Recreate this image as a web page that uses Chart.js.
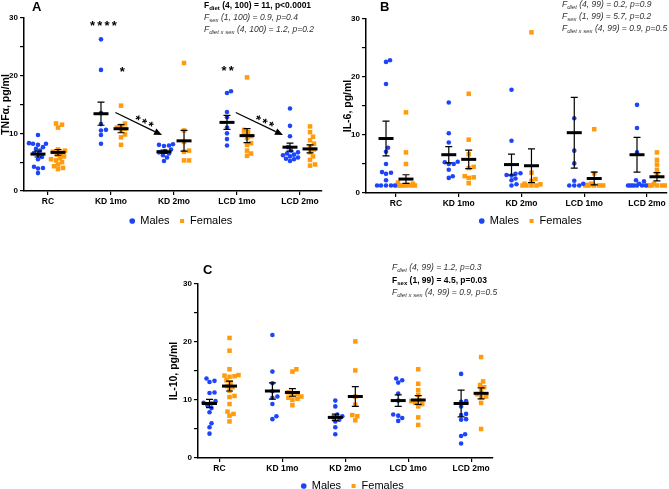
<!DOCTYPE html>
<html>
<head>
<meta charset="utf-8">
<script src="https://cdn.jsdelivr.net/npm/chart.js@4/dist/chart.umd.min.js"></script>
<style>
html, body { margin:0; padding:0; background:#fff; width:669px; height:489px; overflow:hidden; position:relative;
  font-family:'Liberation Sans', Arial, sans-serif; }
canvas { position:absolute; }
.plbl { position:absolute; font-weight:bold; font-size:13px; line-height:13px; color:#000; }
.stat { position:absolute; font-size:8.5px; line-height:12px; color:#333; white-space:nowrap; }
.stat div { font-style:italic; }
.stat div.b { font-style:normal; font-weight:bold; color:#000; }
.stat sub { font-size:6px; vertical-align:-2px; line-height:0; }
</style>
</head>
<body>
<canvas id="cA" width="335" height="240" style="left:0px;top:0px"></canvas>
<canvas id="cB" width="339" height="242" style="left:330px;top:0px"></canvas>
<canvas id="cC" width="340" height="267" style="left:160px;top:240px"></canvas>

<div class="plbl" style="left:32px;top:0px">A</div>
<div class="plbl" style="left:380px;top:0px">B</div>
<div class="plbl" style="left:203px;top:263px">C</div>

<div class="stat" style="left:204px;top:-1px">
  <div class="b">F<sub>diet</sub> (4, 100) = 11, p&lt;0.0001</div>
  <div>F<sub>sex</sub> (1, 100) = 0.9, p=0.4</div>
  <div>F<sub>diet x sex</sub> (4, 100) = 1.2, p=0.2</div>
</div>
<div class="stat" style="left:562px;top:-2px">
  <div>F<sub>diet</sub> (4, 99) = 0.2, p=0.9</div>
  <div>F<sub>sex</sub> (1, 99) = 5.7, p=0.2</div>
  <div>F<sub>diet x sex</sub> (4, 99) = 0.9, p=0.5</div>
</div>
<div class="stat" style="left:392px;top:261px;line-height:12.5px">
  <div>F<sub>diet</sub> (4, 99) = 1.2, p=0.3</div>
  <div class="b">F<sub>sex</sub> (1, 99) = 4.5, p=0.03</div>
  <div>F<sub>diet x sex</sub> (4, 99) = 0.9, p=0.5</div>
</div>

<script>
// ---------- data ----------
const categories = ['RC', 'KD 1mo', 'KD 2mo', 'LCD 1mo', 'LCD 2mo'];
const yTickLabels = [0, 10, 20, 30];
const seriesNames = ['Males', 'Females'];

// Panel A – TNFα (pg/ml), one list per diet group
const tnfMales = [
  [9.7, 8.3, 8.2, 8.2, 8.0, 7.6, 7.3, 7.0, 6.6, 6.3, 5.9, 5.5, 4.2, 4.0, 3.9, 3.1],
  [26.3, 21.0, 13.5, 11.6, 10.6, 10.5, 9.7, 8.2],
  [8.1, 8.0, 7.9, 7.8, 7.2, 6.9, 6.7, 6.5, 6.2, 5.8, 5.2],
  [17.3, 17.0, 13.7, 12.8, 11.0, 10.0, 9.0, 7.9],
  [14.3, 11.3, 9.5, 7.6, 7.0, 6.7, 6.5, 6.3, 6.2, 6.0, 5.8, 5.6, 5.5, 5.2]
];
const tnfFemales = [
  [11.7, 11.5, 11.0, 7.2, 7.0, 6.8, 6.6, 6.3, 6.0, 5.7, 5.5, 5.3, 5.0, 4.6, 4.3, 4.0, 3.8],
  [14.8, 11.7, 11.3, 11.0, 10.8, 10.5, 9.8, 9.3, 8.0],
  [22.2, 10.5, 8.5, 7.0, 6.8, 5.3, 5.3],
  [19.7, 10.6, 10.2, 9.8, 9.5, 9.2, 8.3, 8.0, 7.0, 6.5, 6.1],
  [11.2, 10.2, 9.4, 8.8, 8.2, 7.7, 7.2, 6.7, 6.0, 5.4, 4.6, 4.4]
];
const tnfMeanMales   = [6.4, 13.4, 6.8, 11.9, 7.6];
const tnfSemMales    = [0.5, 2.0, 0.3, 1.2, 0.7];
const tnfMeanFemales = [6.7, 10.8, 8.7, 9.6, 7.3];
const tnfSemFemales  = [0.5, 0.7, 1.8, 1.2, 0.7];

// Panel B – IL-6 (pg/ml)
const il6Males = [
  [22.9, 22.6, 18.8, 7.8, 7.1, 5.0, 3.6, 3.5, 3.3, 2.2, 1.3, 1.3, 1.3, 1.3, 1.3],
  [15.6, 10.3, 8.7, 5.4, 5.3, 5.0, 5.0, 4.0, 2.9, 2.6],
  [17.8, 9.0, 3.4, 3.3, 3.1, 3.0, 2.5, 2.2, 1.5, 1.3],
  [12.9, 7.3, 5.1, 2.1, 1.6, 1.3, 1.3, 1.3],
  [15.2, 11.2, 7.0, 2.2, 2.0, 1.6, 1.3, 1.3, 1.3, 1.3, 1.3, 1.3, 1.3]
];
const il6Females = [
  [13.9, 7.0, 5.0, 1.8, 1.6, 1.4, 1.3, 1.3, 1.3, 1.3, 1.3, 1.3, 1.3],
  [17.1, 9.2, 6.7, 4.5, 4.3, 2.9, 2.7, 2.6, 1.7],
  [27.7, 3.5, 2.4, 2.1, 1.6, 1.5, 1.3, 1.3, 1.3, 1.3],
  [11.0, 3.4, 1.6, 1.4, 1.3, 1.3, 1.3, 1.3, 1.3],
  [7.0, 5.7, 4.9, 4.0, 3.1, 1.6, 1.3, 1.3, 1.3, 1.3, 1.3, 1.3]
];
const il6MeanMales   = [9.4, 6.6, 4.9, 10.4, 6.6];
const il6SemMales    = [3.0, 1.4, 1.8, 6.1, 3.0];
const il6MeanFemales = [2.4, 5.8, 4.7, 2.5, 2.8];
const il6SemFemales  = [0.75, 1.6, 2.9, 1.1, 0.7];

// Panel C – IL-10 (pg/ml)
const il10Males = [
  [13.7, 13.3, 13.1, 11.3, 11.2, 9.8, 9.5, 9.4, 9.1, 8.6, 7.9, 6.0, 5.3, 4.2],
  [21.2, 14.9, 12.9, 11.5, 10.6, 10.4, 9.3, 7.2, 6.7],
  [9.9, 8.9, 7.5, 7.2, 7.0, 6.6, 6.3, 5.3, 4.1],
  [13.7, 13.4, 13.0, 11.1, 9.9, 7.5, 7.3, 6.9, 6.4],
  [14.5, 9.8, 9.7, 8.9, 7.6, 7.4, 6.7, 6.6, 4.1, 3.8, 2.5]
];
const il10Females = [
  [20.7, 18.5, 15.3, 14.3, 14.2, 14.1, 14.0, 13.4, 13.0, 12.4, 12.2, 11.6, 10.7, 10.5, 9.3, 8.0, 7.6, 7.3, 6.3],
  [15.3, 14.9, 11.3, 11.0, 10.8, 10.6, 10.4, 10.2, 10.0, 9.1],
  [20.1, 15.1, 10.6, 9.2, 7.4, 7.2, 6.5],
  [15.3, 12.8, 11.7, 10.9, 10.0, 9.8, 9.5, 9.3, 8.9, 7.0, 5.7],
  [17.4, 13.2, 12.6, 12.2, 11.6, 11.0, 10.6, 10.5, 9.5, 5.0]
];
const il10MeanMales   = [9.4, 11.55, 7.0, 9.9, 9.4];
const il10SemMales    = [0.7, 1.4, 0.55, 1.0, 2.3];
const il10MeanFemales = [12.4, 11.3, 10.6, 10.0, 11.15];
const il10SemFemales  = [0.85, 0.65, 1.7, 0.75, 0.95];

// Panel A significance marks (data coordinates)
const starNotes = [
  { x: 1.88, y: 29.2, text: '****' },
  { x: 2.18, y: 21.3, text: '*' },
  { x: 3.85, y: 21.4, text: '**' }
];
const arrowNotes = [
  { x1: 2.07, y1: 13.6, x2: 2.81, y2: 9.7, text: '***' },
  { x1: 3.98, y1: 13.6, x2: 4.73, y2: 9.7, text: '***' }
];

// ---------- styling / helpers ----------
const BLUE = '#1c45fb';
const ORANGE = '#ff9b0c';
const FONT = "'Liberation Sans', Arial, sans-serif";
Chart.defaults.font.family = FONT;
Chart.defaults.color = '#000';
const SEX_OFFSET = 0.159;      // half distance between male/female columns (x units)
const PX_PER_Y = 173 / 30, PX_PER_X = 63, DOT = 4.3, MAX_SPREAD = 9;

// deterministic beeswarm: spread points that would overlap
function swarm(vals) {
  const order = vals.map((v, i) => i).sort((a, b) => vals[a] - vals[b]);
  const placed = [];
  const offs = new Array(vals.length).fill(0);
  order.forEach(i => {
    const py = vals[i] * PX_PER_Y;
    let px = 0, found = false;
    for (let s = 0; s <= 2 * MAX_SPREAD; s++) {
      px = s === 0 ? 0 : (s % 2 ? 1 : -1) * Math.ceil(s / 2);
      if (placed.every(p => Math.hypot(p.x - px, p.y - py) >= DOT)) { found = true; break; }
    }
    if (!found) {   // column is full: overlap at the least crowded slot
      let best = 0, bestD = -1;
      for (let c = -MAX_SPREAD; c <= MAX_SPREAD; c++) {
        const d = Math.min(...placed.map(p => Math.hypot(p.x - c, p.y - py)));
        if (d > bestD) { bestD = d; best = c; }
      }
      px = best;
    }
    placed.push({ x: px, y: py });
    offs[i] = px / PX_PER_X;
  });
  return offs;
}
function buildPoints(groups, sign) {
  const pts = [];
  groups.forEach((vals, i) => {
    const offs = swarm(vals);
    vals.forEach((v, j) => pts.push({ x: i + 1 + sign * SEX_OFFSET + offs[j], y: v }));
  });
  return pts;
}

function meanSemPlugin(meanM, semM, meanF, semF) {
  return {
    id: 'meanSem',
    afterDatasetsDraw(chart) {
      const { ctx, scales: { x, y } } = chart;
      ctx.save();
      ctx.strokeStyle = '#000';
      [[meanM, semM, -1], [meanF, semF, 1]].forEach(([means, sems, sign]) => {
        means.forEach((m, i) => {
          const cx = x.getPixelForValue(i + 1 + sign * SEX_OFFSET);
          const yt = y.getPixelForValue(m + sems[i]);
          const yb = y.getPixelForValue(m - sems[i]);
          const ym = y.getPixelForValue(m);
          ctx.lineWidth = 1.2;
          ctx.beginPath();
          ctx.moveTo(cx, yt); ctx.lineTo(cx, yb);
          ctx.moveTo(cx - 3.5, yt); ctx.lineTo(cx + 3.5, yt);
          ctx.moveTo(cx - 3.5, yb); ctx.lineTo(cx + 3.5, yb);
          ctx.stroke();
          ctx.lineWidth = 3;
          ctx.beginPath();
          ctx.moveTo(cx - 7.5, ym); ctx.lineTo(cx + 7.5, ym);
          ctx.stroke();
        });
      });
      ctx.restore();
    }
  };
}
function legendShiftPlugin(dx, dy) {
  return {
    id: 'legendShift',
    afterLayout(chart) {
      const lg = chart.legend;
      if (lg) { lg.left += dx; lg.right += dx; lg.top += dy; lg.bottom += dy; }
    }
  };
}
function drawStars(ctx, cx, cy, n) {
  ctx.font = 'bold 13px ' + FONT;
  ctx.textAlign = 'center';
  ctx.textBaseline = 'alphabetic';
  for (let k = 0; k < n; k++) {
    ctx.fillText('*', cx + (k - (n - 1) / 2) * 7.2, cy + 7.4);
  }
}
const notesPlugin = {
  id: 'notes',
  afterDatasetsDraw(chart) {
    const { ctx, scales: { x, y } } = chart;
    ctx.save();
    ctx.fillStyle = '#000';
    ctx.strokeStyle = '#000';
    starNotes.forEach(n => drawStars(ctx, x.getPixelForValue(n.x), y.getPixelForValue(n.y), n.text.length));
    arrowNotes.forEach(a => {
      const x1 = x.getPixelForValue(a.x1), y1 = y.getPixelForValue(a.y1);
      const x2 = x.getPixelForValue(a.x2), y2 = y.getPixelForValue(a.y2);
      const ang = Math.atan2(y2 - y1, x2 - x1);
      const head = 8, hw = 3.5;
      const bx = x2 - head * Math.cos(ang), by = y2 - head * Math.sin(ang);
      ctx.lineWidth = 1.2;
      ctx.beginPath(); ctx.moveTo(x1, y1); ctx.lineTo(bx, by); ctx.stroke();
      ctx.beginPath();
      ctx.moveTo(x2, y2);
      ctx.lineTo(bx + hw * Math.sin(ang), by - hw * Math.cos(ang));
      ctx.lineTo(bx - hw * Math.sin(ang), by + hw * Math.cos(ang));
      ctx.closePath(); ctx.fill();
      const mx = (x1 + x2) / 2 + 4 * Math.cos(ang) + 6 * Math.sin(ang);
      const my = (y1 + y2) / 2 + 4 * Math.sin(ang) - 6 * Math.cos(ang);
      ctx.save();
      ctx.translate(mx, my); ctx.rotate(ang);
      drawStars(ctx, 0, 0, a.text.length);
      ctx.restore();
    });
    ctx.restore();
  }
};

function makePanel(id, o) {
  return new Chart(document.getElementById(id), {
    type: 'scatter',
    data: {
      datasets: [
        { label: seriesNames[0], data: buildPoints(o.males, -1), pointStyle: 'circle',
          pointRadius: 2.3, pointHoverRadius: 2.3, backgroundColor: BLUE, borderWidth: 0 },
        { label: seriesNames[1], data: buildPoints(o.females, 1), pointStyle: 'rect',
          pointRadius: 3.2, pointHoverRadius: 3.2, backgroundColor: ORANGE, borderWidth: 0 }
      ]
    },
    options: {
      responsive: false, animation: false, events: [],
      layout: { padding: o.padding, autoPadding: false },
      plugins: {
        tooltip: { enabled: false },
        legend: {
          position: 'bottom',
          labels: { usePointStyle: true, boxWidth: 5, boxHeight: 4, padding: 10,
                    font: { size: 11 }, color: '#000' }
        }
      },
      scales: {
        x: {
          type: 'linear', min: o.xmin, max: o.xmax,
          afterBuildTicks: s => { s.ticks = categories.map((c, i) => ({ value: i + 1 })); },
          afterFit: s => { s.height = 18; },
          ticks: { callback: v => categories[Math.round(v) - 1] || '', autoSkip: false, maxRotation: 0,
                   font: { size: 8.5, weight: 'bold' }, color: '#000', padding: 2 },
          grid: { drawOnChartArea: false, tickLength: 4, color: '#000', lineWidth: 1.2 },
          border: { display: true, color: '#000', width: 1.5 }
        },
        y: {
          type: 'linear', min: 0, max: 30,
          afterFit: s => { s.width = o.yW; },
          ticks: { stepSize: 5, callback: v => yTickLabels.includes(v) ? String(v) : '',
                   font: { size: 8, weight: 'bold' }, color: '#000', padding: 2 },
          grid: { drawOnChartArea: false, tickLength: 4, color: '#000', lineWidth: 1.2 },
          border: { display: true, color: '#000', width: 1.5 },
          title: { display: true, text: o.yTitle, font: { size: 10.5, weight: 'bold' }, color: '#000',
                   padding: 0 }
        }
      }
    },
    plugins: [meanSemPlugin(o.meanM, o.semM, o.meanF, o.semF), legendShiftPlugin(o.legendDx, o.legendDy)]
      .concat(o.extra || [])
  });
}

makePanel('cA', {
  males: tnfMales, females: tnfFemales,
  meanM: tnfMeanMales, semM: tnfSemMales, meanF: tnfMeanFemales, semF: tnfSemFemales,
  yTitle: 'TNFα, pg/ml', xmin: 0.619, xmax: 5.349,
  padding: { left: 0, right: 13, top: 18, bottom: 0 }, yW: 24, legendDx: 20, legendDy: -3.5,
  extra: [notesPlugin]
});
makePanel('cB', {
  males: il6Males, females: il6Females,
  meanM: il6MeanMales, semM: il6SemMales, meanF: il6MeanFemales, semF: il6SemFemales,
  yTitle: 'IL-6, pg/ml', xmin: 0.522, xmax: 5.319,
  padding: { left: 12, right: 2, top: 19, bottom: 0 }, yW: 24, legendDx: 26, legendDy: -5.5
});
makePanel('cC', {
  males: il10Males, females: il10Females,
  meanM: il10MeanMales, semM: il10SemMales, meanF: il10MeanFemales, semF: il10SemFemales,
  yTitle: 'IL-10, pg/ml', xmin: 0.658, xmax: 5.348,
  padding: { left: 8, right: 7, top: 44, bottom: 0 }, yW: 30, legendDx: 22, legendDy: -5.5
});
</script>
</body>
</html>
